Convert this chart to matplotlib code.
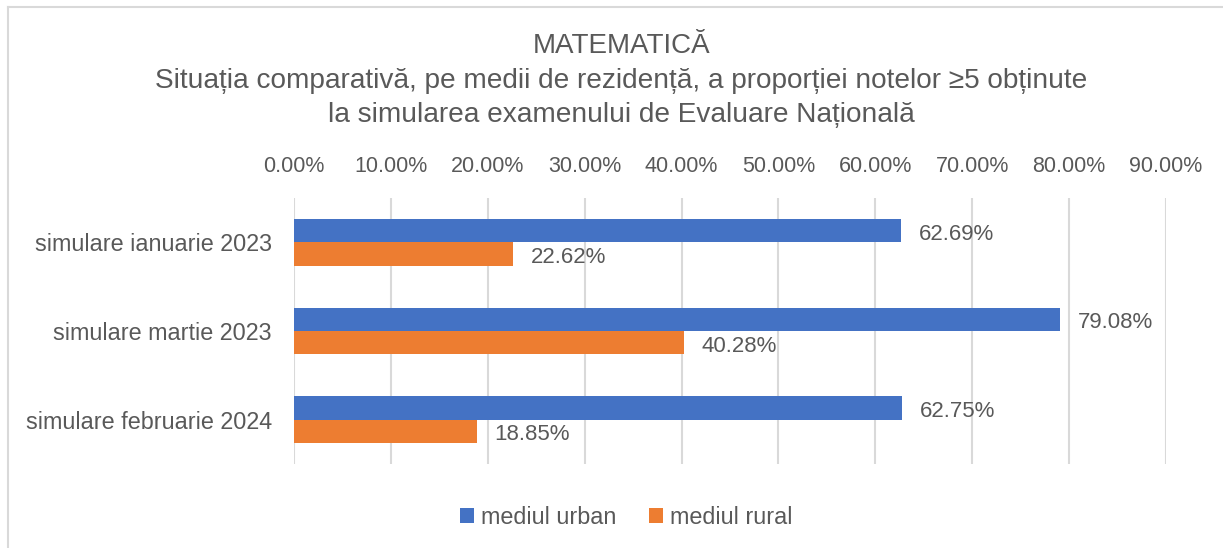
import numpy as np
import matplotlib.pyplot as plt

categorii = ['simulare ianuarie 2023', 'simulare martie 2023', 'simulare februarie 2024']
urban = [62.69, 79.08, 62.75]
rural = [22.62, 40.28, 18.85]
serii = ['mediul urban', 'mediul rural']
culori = ['#4472C4', '#ED7D31']
ticks = [0, 10, 20, 30, 40, 50, 60, 70, 80, 90]

plt.rcParams['font.family'] = ['Liberation Sans', 'DejaVu Sans']
text_col = '#595959'

fig = plt.figure(figsize=(12.23, 5.48), dpi=100)
ax = fig.add_axes([294 / 1223, 1 - 464 / 548, 872 / 1223, 266 / 548])

y = np.arange(len(categorii))
h = 0.265
ax.barh(y - h / 2, urban, height=h, color=culori[0], label=serii[0], zorder=3)
ax.barh(y + h / 2, rural, height=h, color=culori[1], label=serii[1], zorder=3)

for i in range(len(categorii)):
    ax.text(urban[i] + 1.8, y[i] - h / 2 + 0.04, f'{urban[i]:.2f}%', va='center', ha='left',
            fontsize=16, color=text_col)
    ax.text(rural[i] + 1.8, y[i] + h / 2 + 0.04, f'{rural[i]:.2f}%', va='center', ha='left',
            fontsize=16, color=text_col)

ax.set_xlim(0, 90)
ax.set_ylim(2.5, -0.5)
ax.set_xticks(ticks)
ax.set_xticklabels([f'{t:.2f}%' for t in ticks])
ax.xaxis.tick_top()
ax.set_yticks(y)
ax.set_yticklabels(categorii)
ax.tick_params(axis='x', length=0, pad=15, labelsize=15.5, labelcolor=text_col)
ax.tick_params(axis='y', length=0, pad=16, labelsize=16.8, labelcolor=text_col)
ax.grid(axis='x', color='#D9D9D9', linewidth=1.5, zorder=0)
for s in ax.spines.values():
    s.set_visible(False)

fig.text(0.508, 1 - 46 / 548, 'MATEMATICĂ', ha='center', va='center', fontsize=20, color=text_col)
fig.text(0.508, 1 - 81 / 548,
         'Situația comparativă, pe medii de rezidență, a proporției notelor ≥5 obținute',
         ha='center', va='center', fontsize=20.2, color=text_col)
fig.text(0.508, 1 - 115 / 548, 'la simularea examenului de Evaluare Națională',
         ha='center', va='center', fontsize=20.2, color=text_col)

fig.legend(loc='center', bbox_to_anchor=(0.512, 1 - 517 / 548), ncol=2, frameon=False,
           fontsize=16.8, labelcolor=text_col, handlelength=0.6, handleheight=0.6,
           handletextpad=0.3, columnspacing=1.4)

# chenarul graficului (doar sus si stanga)
fig.add_artist(plt.Line2D([8 / 1223, 1], [1 - 7 / 548, 1 - 7 / 548], color='#D9D9D9', lw=1.5))
fig.add_artist(plt.Line2D([8 / 1223, 8 / 1223], [0, 1 - 7 / 548], color='#D9D9D9', lw=1.5))

fig.savefig('out.png', dpi=100, facecolor='white')
